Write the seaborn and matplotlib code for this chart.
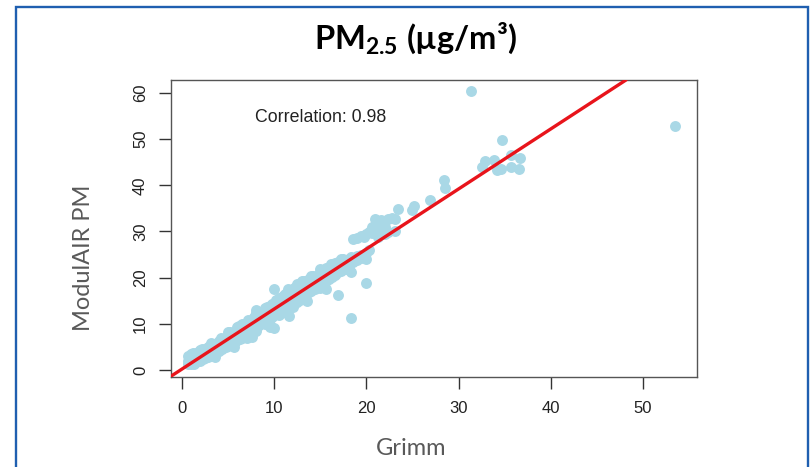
import matplotlib
matplotlib.use("Agg")
import matplotlib.pyplot as plt
import matplotlib.patches as mpatches
import seaborn as sns
import pandas as pd

# ---- data (Grimm vs ModulAIR PM2.5) ----
grimm = [
    0.6, 0.6, 0.6, 0.8, 0.8, 1.0, 1.0, 1.0, 1.0, 1.3, 1.3, 1.3, 1.5, 1.5, 1.5,
    1.8, 1.8, 1.8, 2.0, 2.0, 2.0, 2.0, 2.3, 2.3, 2.3, 2.5, 2.5, 2.5,
    2.8, 2.8, 2.8, 2.8, 3.0, 3.0, 3.0, 3.3, 3.3, 3.3, 3.5, 3.5, 3.5,
    3.8, 3.8, 3.8, 4.0, 4.0, 4.0, 4.0, 4.3, 4.3, 4.3, 4.5, 4.5, 4.5,
    4.8, 4.8, 4.8, 5.0, 5.0, 5.0, 5.0, 5.3, 5.3, 5.3, 5.5, 5.5, 5.5,
    5.8, 5.8, 5.8, 6.0, 6.0, 6.0, 6.0, 6.3, 6.3, 6.3, 6.5, 6.5, 6.5, 6.5,
    6.8, 6.8, 6.8, 7.0, 7.0, 7.0, 7.0, 7.3, 7.3, 7.3, 7.5, 7.5, 7.5,
    7.8, 7.8, 7.8, 8.0, 8.0, 8.0, 8.0, 8.3, 8.3, 8.3, 8.5, 8.5, 8.5,
    8.8, 8.8, 8.8, 9.0, 9.0, 9.0, 9.0, 9.3, 9.3, 9.3, 9.5, 9.5, 9.5, 9.5,
    9.8, 9.8, 9.8, 10.0, 10.0, 10.0, 10.0, 10.0, 10.3, 10.3, 10.3,
    10.5, 10.5, 10.5, 10.5, 10.8, 10.8, 10.8, 11.0, 11.0, 11.0, 11.0,
    11.3, 11.3, 11.3, 11.5, 11.5, 11.5, 11.5, 11.8, 11.8, 11.8,
    12.0, 12.0, 12.0, 12.0, 12.3, 12.3, 12.3, 12.5, 12.5, 12.5, 12.5,
    12.8, 12.8, 12.8, 13.0, 13.0, 13.0, 13.0, 13.3, 13.3, 13.3,
    13.5, 13.5, 13.5, 13.8, 13.8, 13.8, 14.0, 14.0, 14.0, 14.0,
    14.4, 14.4, 14.4, 14.7, 14.7, 14.7, 15.0, 15.0, 15.0, 15.0,
    15.3, 15.3, 15.3, 15.6, 15.6, 15.6, 16.0, 16.0, 16.0, 16.3, 16.3, 16.3,
    16.6, 16.6, 16.6, 16.9, 16.9, 16.9, 16.9, 17.2, 17.2, 17.2,
    17.5, 17.5, 17.5, 17.8, 17.8, 18.1, 18.1, 18.3, 18.3, 18.3,
    18.6, 18.6, 18.6, 19.0, 19.0, 19.0, 19.4, 19.4, 19.4, 19.7, 19.7,
    20.0, 20.0, 20.0, 20.0, 20.3, 20.3, 20.6, 20.6, 20.9, 20.9,
    21.3, 21.3, 21.6, 21.6, 22.0, 22.0, 22.3, 22.3, 22.8, 23.1, 23.1,
    23.4, 25.0, 25.2, 26.9, 28.4, 28.5, 31.4, 32.5, 32.9, 33.8, 34.2,
    34.6, 34.7, 35.7, 35.7, 36.7, 36.5, 53.5,
    # extra edge points of the dense band
    1.2, 2.2, 3.2, 4.2, 5.2, 6.2, 7.2, 8.2, 9.2, 10.2, 11.2, 12.2, 13.2, 14.2,
    15.2, 16.2, 17.2, 3.6, 5.6, 7.6, 9.6, 11.6, 13.6, 15.6, 8.0, 11.8,
]
modulair = [
    1.2, 2.0, 3.1, 1.6, 2.6, 1.3, 2.2, 3.4, 1.8, 1.9, 2.8, 1.4, 2.4, 3.6, 1.7,
    2.1, 3.0, 4.0, 2.6, 3.5, 1.9, 4.4, 2.9, 3.8, 2.3, 3.3, 4.5, 2.6,
    3.6, 4.2, 2.9, 5.0, 3.1, 4.0, 4.9, 3.5, 4.6, 5.4, 4.1, 5.0, 3.6,
    4.4, 5.6, 3.9, 4.9, 5.8, 4.2, 6.3, 5.1, 6.0, 4.6, 5.5, 6.6, 4.9,
    5.7, 6.9, 5.0, 5.2, 6.2, 7.4, 8.2, 6.0, 7.0, 5.6, 6.4, 7.6, 5.9,
    6.8, 8.0, 6.1, 6.5, 7.3, 8.6, 9.3, 7.1, 8.2, 6.7, 7.6, 8.8, 7.0, 10.0,
    7.9, 9.0, 7.3, 7.4, 8.4, 9.6, 6.9, 8.6, 9.9, 8.0, 8.1, 9.4, 10.6,
    8.8, 10.1, 11.5, 9.2, 10.4, 8.5, 12.4, 9.6, 10.8, 11.8, 9.9, 11.2, 10.3,
    10.2, 11.6, 12.6, 10.0, 11.0, 12.1, 13.4, 10.7, 11.9, 12.9, 11.2, 12.4, 13.8, 9.8,
    11.5, 12.7, 14.2, 9.1, 11.8, 13.0, 14.6, 17.5, 12.2, 13.5, 14.9,
    12.0, 13.3, 14.4, 15.5, 12.8, 14.0, 15.2, 12.5, 13.6, 14.7, 16.0,
    13.2, 14.4, 15.8, 13.5, 14.9, 16.3, 17.6, 13.9, 15.2, 16.6,
    13.7, 15.0, 16.1, 17.2, 14.4, 15.7, 17.0, 14.8, 16.1, 17.5, 18.6,
    15.1, 16.4, 17.8, 15.6, 16.8, 18.2, 19.3, 15.9, 17.2, 18.7,
    16.3, 17.6, 19.0, 16.9, 18.0, 19.6, 17.2, 18.4, 19.8, 20.3,
    17.6, 18.9, 20.0, 18.1, 19.5, 20.5, 17.8, 19.1, 20.7, 21.8,
    18.7, 20.2, 21.4, 19.2, 20.6, 22.1, 19.7, 21.0, 22.3, 20.2, 21.6, 22.7,
    20.5, 22.0, 23.1, 16.2, 21.2, 22.4, 23.3, 21.5, 22.8, 23.6,
    22.0, 23.2, 24.0, 21.8, 23.5, 22.6, 24.0, 11.3, 21.3, 24.5,
    23.3, 24.2, 28.4, 23.8, 24.6, 28.5, 24.2, 25.0, 29.0, 24.6, 28.9,
    18.9, 24.0, 25.4, 29.4, 26.0, 29.8, 29.7, 31.0, 30.7, 32.8,
    31.4, 28.8, 32.5, 30.2, 29.5, 31.0, 29.9, 32.6, 33.0, 32.8, 30.1,
    34.8, 34.6, 35.5, 36.9, 41.1, 39.5, 60.4, 43.9, 45.3, 45.5, 43.3,
    43.6, 49.8, 46.5, 44.0, 46.0, 43.6, 52.8,
    # extra edge points of the dense band
    3.6, 4.6, 5.8, 7.0, 8.3, 9.6, 10.9, 12.3, 13.7, 15.1, 16.5, 17.8, 19.2, 20.4,
    21.6, 22.9, 24.1, 2.8, 5.0, 7.2, 9.3, 11.6, 15.0, 17.6, 12.9, 16.9,
]
line_slope = 1.30       # red fitted line
line_intercept = 0.2
correlation_label = "Correlation: 0.98"
x_ticks = [0, 10, 20, 30, 40, 50]
y_ticks = [0, 10, 20, 30, 40, 50, 60]

df = pd.DataFrame({"Grimm": grimm, "ModulAIR": modulair})

sns.set_theme(style="white")
plt.rcParams["font.family"] = ["Liberation Sans", "DejaVu Sans"]
plt.rcParams["mathtext.fontset"] = "custom"
plt.rcParams["mathtext.rm"] = "Lato:bold"
plt.rcParams["mathtext.it"] = "Lato:bold"
plt.rcParams["mathtext.bf"] = "Lato:bold"

fig = plt.figure(figsize=(8.1, 4.67), dpi=100)
ax = fig.add_axes([171 / 810, 1 - 377 / 467, (697 - 171) / 810, (377 - 80) / 467])

sns.scatterplot(data=df, x="Grimm", y="ModulAIR", ax=ax, color="#A9D8E6",
                s=62, linewidth=0, alpha=1, zorder=2)
ax.axline((0, line_intercept), slope=line_slope, color="#E8141B", lw=2.4, zorder=3)

ax.set_xlim(-1.19, 55.86)
ax.set_ylim(-1.52, 62.8)
ax.set_xticks(x_ticks)
ax.set_yticks(y_ticks)
ax.set_xlabel("")
ax.set_ylabel("")
for sp in ax.spines.values():
    sp.set_color("#555555")
    sp.set_linewidth(1.0)
ax.tick_params(axis="both", which="both", direction="out", length=8.5, width=1,
               color="#333333", labelsize=12, labelcolor="#222222",
               bottom=True, left=True, top=False, right=False)
ax.tick_params(axis="x", pad=9)
ax.tick_params(axis="y", pad=8, labelrotation=90)
for lab in ax.get_yticklabels():
    lab.set_verticalalignment("center")

ax.text(15.0, 54.6, correlation_label, fontsize=12.8, color="#222222",
        ha="center", va="center")

# title and axis labels placed as in the slide
fig.text(415 / 810, 1 - 49.3 / 467, r"PM$_{\mathrm{2.5}}$ (µg/m³)",
         fontsize=23.5, fontweight="bold", family="Lato", ha="center",
         va="baseline", color="black")
fig.text(411 / 810, 1 - 455 / 467, "Grimm", fontsize=17, family="Lato",
         color="#595959", ha="center", va="baseline")
fig.text(83 / 810, 1 - 257.5 / 467, "ModulAIR PM", fontsize=17, family="Lato",
         color="#595959", ha="center", va="center", rotation=90)

# blue slide frame
frame = mpatches.Rectangle((15.5 / 810, -0.05), (808 - 15.5) / 810, 1.05 - 6.7 / 467,
                           transform=fig.transFigure, fill=False,
                           edgecolor="#1F5FB0", linewidth=1.7, clip_on=False)
fig.patches.append(frame)

fig.savefig("out.png", dpi=100)
